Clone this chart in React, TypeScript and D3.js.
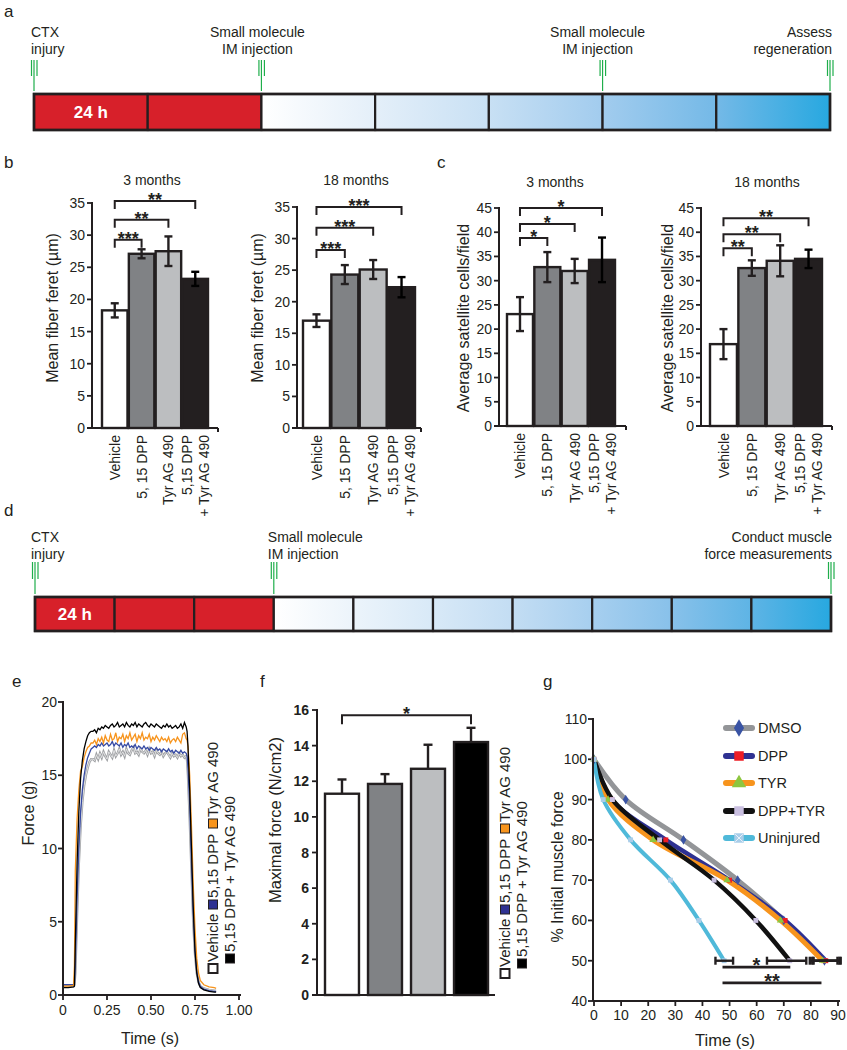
import React from 'react';
import * as d3 from 'd3';

const FONT = '"Liberation Sans", Arial, Helvetica, sans-serif';
const INK = '#231f20';
const RED = '#d7202a';
const GREEN = '#1fae4b';
const blueRamp = ['#ffffff', '#e4eff9', '#c8e0f4', '#a2ccee', '#74b9e7', '#27a8e0'];

// ---------- timelines (a, d) ----------
const aSegments = 7;
const aRed = 2;
const aEvents = [
  { at: 0, lines: ['CTX', 'injury'], anchor: 'start', dx: -3 },
  { at: 2, lines: ['Small molecule', 'IM injection'], anchor: 'middle', dx: -4 },
  { at: 5, lines: ['Small molecule', 'IM injection'], anchor: 'middle', dx: -5 },
  { at: 7, lines: ['Assess', 'regeneration'], anchor: 'end', dx: 2 },
];
const dSegments = 10;
const dRed = 3;
const dEvents = [
  { at: 0, lines: ['CTX', 'injury'], anchor: 'start', dx: -4 },
  { at: 3, lines: ['Small molecule', 'IM injection'], anchor: 'start', dx: -6 },
  { at: 10, lines: ['Conduct muscle', 'force measurements'], anchor: 'end', dx: 1 },
];

// ---------- panels b & c ----------
const groups = ['Vehicle', '5, 15 DPP', 'Tyr AG 490', '5,15 DPP + Tyr AG 490'];
const groupLines = [['Vehicle'], ['5, 15 DPP'], ['Tyr AG 490'], ['5,15 DPP', '+ Tyr AG 490']];
const barFills = ['#ffffff', '#808285', '#bcbec0', '#231f20'];

const feret3m = [18.3, 27.1, 27.5, 23.2];
const feret3mErr = [1.1, 0.7, 2.3, 1.1];
const feret18m = [17.0, 24.3, 25.1, 22.3];
const feret18mErr = [1.0, 1.5, 1.5, 1.6];
const sat3m = [23.1, 32.8, 32.0, 34.3];
const sat3mErr = [3.5, 3.1, 2.5, 4.6];
const sat18m = [16.9, 32.6, 34.1, 34.5];
const sat18mErr = [3.1, 1.6, 3.2, 1.9];

// [target group, bracket level, stars] – always compared with Vehicle
const feret3mSig: [number, number, string][] = [[1, 29.3, '***'], [2, 32.4, '**'], [3, 35.3, '**']];
const feret18mSig: [number, number, string][] = [[1, 28.2, '***'], [2, 31.7, '***'], [3, 35.0, '***']];
const sat3mSig: [number, number, string][] = [[1, 38.8, '*'], [2, 41.7, '*'], [3, 45.0, '*']];
const sat18mSig: [number, number, string][] = [[1, 36.7, '**'], [2, 39.6, '**'], [3, 42.9, '**']];

// ---------- panel e ----------
const eTime = [
  0, 0.03, 0.06, 0.065, 0.07, 0.08, 0.09, 0.10, 0.11, 0.12, 0.13, 0.14, 0.15, 0.16,
  0.17, 0.18, 0.19, 0.20, 0.21, 0.22, 0.23, 0.24, 0.25,
  0.26, 0.27, 0.28, 0.29, 0.30, 0.31, 0.32, 0.33, 0.34,
  0.35, 0.36, 0.37, 0.38, 0.39, 0.40, 0.41, 0.42, 0.43,
  0.44, 0.45, 0.46, 0.47, 0.48, 0.49, 0.50, 0.51, 0.52,
  0.53, 0.54, 0.55, 0.56, 0.57, 0.58, 0.59, 0.60, 0.61,
  0.62, 0.63, 0.64, 0.65, 0.66, 0.67, 0.68, 0.69, 0.70,
  0.705, 0.71, 0.72, 0.73, 0.74, 0.75, 0.76, 0.77, 0.78, 0.80, 0.83, 0.86, 0.87,
];
const eVehicle = [
  0.6, 0.6, 0.6, 0.7, 1.5, 5.5, 9.0, 11.5, 13.2, 14.3, 15.0, 15.5, 15.9, 16.1,
  16.1, 16.0, 16.4, 16.1, 16.5, 16.2, 16.6, 16.3, 16.1,
  16.6, 16.4, 16.2, 16.7, 16.3, 16.5, 16.8, 16.4, 16.6,
  16.3, 16.8, 16.5, 16.4, 16.7, 16.9, 16.5, 16.6, 16.4,
  16.8, 16.6, 16.5, 16.7, 16.4, 16.8, 16.5, 16.6, 16.3,
  16.7, 16.5, 16.4, 16.6, 16.3, 16.5, 16.6, 16.4, 16.2,
  16.5, 16.3, 16.4, 16.2, 16.5, 16.3, 16.4, 16.2, 16.3,
  16.0, 15.0, 12.0, 8.5, 5.0, 2.8, 1.5, 0.9, 0.6, 0.45, 0.35, 0.3, 0.3,
];
const eDpp = [
  0.7, 0.7, 0.7, 0.8, 2.0, 6.5, 10.0, 12.5, 14.0, 15.0, 15.7, 16.2, 16.5, 16.8,
  16.9, 17.0, 16.9, 17.1, 17.0, 17.2, 17.0, 17.1, 17.2,
  17.0, 17.1, 17.3, 17.0, 17.2, 17.1, 17.0, 17.2, 16.9,
  17.1, 17.0, 17.2, 16.9, 17.0, 16.9, 17.1, 16.8, 17.0,
  16.9, 16.8, 17.0, 16.8, 16.9, 16.7, 16.9, 16.8, 16.7,
  16.9, 16.7, 16.8, 16.6, 16.8, 16.7, 16.6, 16.8, 16.6,
  16.7, 16.5, 16.7, 16.6, 16.5, 16.7, 16.5, 16.6, 16.5,
  16.3, 15.5, 13.0, 9.0, 5.5, 3.0, 1.6, 0.9, 0.6, 0.4, 0.3, 0.25, 0.25,
];
const eTyr = [
  0.6, 0.6, 0.65, 2.0, 8.5, 12.0, 14.0, 15.3, 15.6, 16.2, 16.6, 16.9, 17.0, 17.2,
  17.2, 17.4, 17.1, 17.5, 17.3, 17.6, 17.2, 17.7, 17.4,
  17.3, 17.8, 17.4, 17.5, 17.9, 17.3, 17.6, 17.5, 17.8,
  17.3, 17.7, 17.5, 17.9, 17.4, 17.6, 17.8, 17.3, 17.7,
  17.5, 17.9, 17.4, 17.6, 17.5, 17.8, 17.3, 17.6, 17.4,
  17.7, 17.5, 17.3, 17.6, 17.4, 17.5, 17.3, 17.6, 17.2,
  17.4, 17.5, 17.3, 17.6, 17.4, 17.2, 17.8, 17.9, 17.5,
  17.4, 17.0, 15.0, 11.5, 7.5, 4.5, 2.5, 1.5, 1.0, 0.7, 0.55, 0.5, 0.45,
];
const eCombo = [
  0.5, 0.5, 0.55, 0.6, 3.5, 9.0, 12.5, 14.8, 16.0, 16.8, 17.3, 17.7, 17.9, 18.0,
  18.0, 18.1, 17.9, 18.2, 18.1, 18.3, 18.2, 18.4, 18.3,
  18.2, 18.4, 18.5, 18.3, 18.4, 18.6, 18.3, 18.4, 18.5,
  18.3, 18.6, 18.4, 18.3, 18.5, 18.4, 18.6, 18.3, 18.5,
  18.4, 18.3, 18.5, 18.6, 18.4, 18.3, 18.5, 18.4, 18.3,
  18.5, 18.4, 18.3, 18.2, 18.4, 18.3, 18.5, 18.3, 18.4,
  18.2, 18.3, 18.4, 18.2, 18.3, 18.5, 18.2, 18.6, 18.3,
  18.0, 17.0, 14.0, 10.0, 6.0, 3.0, 1.5, 0.8, 0.5, 0.35, 0.25, 0.2, 0.2,
];
const eTicks = [0, 0.25, 0.5, 0.75, 1];

// ---------- panel f ----------
const maxForce = [11.3, 11.85, 12.7, 14.2];
const maxForceErr = [0.8, 0.55, 1.35, 0.8];
const fFills = ['#ffffff', '#808285', '#bcbec0', '#000000'];

// legend used by e and f
const legendNames = ['Vehicle', '5,15 DPP', 'Tyr AG 490', '5,15 DPP + Tyr AG 490'];
const legendFills = ['#ffffff', '#2e3192', '#f7941d', '#000000'];

// ---------- panel g ----------
const gNames = ['DMSO', 'DPP', 'TYR', 'DPP+TYR', 'Uninjured'];
const gLevels = [100, 90, 80, 70, 60, 50];
const gDmso = [0, 11.7, 33, 53, 70, 85];
const gDpp = [0, 6.5, 26.5, 50, 70.5, 85.5];
const gTyr = [0, 5.2, 21.8, 49.1, 68.8, 84.3];
const gCombo = [0, 6.8, 24.2, 44.3, 59.7, 72.2];
const gUninj = [0, 3.4, 13.5, 28.2, 38.7, 48];
const gErrLo = [79.6, 81, 80.5, 63.8, 44.8];
const gErrHi = [91, 90.5, 89.8, 78.3, 51.3];
const gSig = [
  { from: 47.4, to: 72.4, level: 48.4, label: '*' },
  { from: 47.4, to: 83.9, level: 44.5, label: '**' },
];

function Timeline({ x0, x1, top, h, nSeg, nRed, events, idp, tick, textY }: any) {
  const x = d3.scaleLinear().domain([0, nSeg]).range([x0, x1]);
  const nBlue = nSeg - nRed;
  const ramp = d3.piecewise(d3.interpolateRgb, blueRamp);
  const segs = d3.range(nSeg);
  return (
    <g>
      <defs>
        {segs.filter((i) => i >= nRed).map((i) => {
          const k = i - nRed;
          return (
            <linearGradient key={i} id={`${idp}${i}`} x1="0" x2="1" y1="0" y2="0">
              <stop offset="0" stopColor={ramp(k / nBlue)} />
              <stop offset="1" stopColor={ramp((k + 1) / nBlue)} />
            </linearGradient>
          );
        })}
      </defs>
      {segs.map((i) => (
        <rect key={i} x={x(i)} y={top} width={x(i + 1) - x(i)} height={h}
          fill={i < nRed ? RED : `url(#${idp}${i})`} stroke={INK} strokeWidth={2.2} />
      ))}
      <rect x={x0} y={top} width={x1 - x0} height={h} fill="none" stroke={INK} strokeWidth={2.6} />
      <text x={(x(0) + x(1)) / 2} y={top + h / 2} dy="0.36em" textAnchor="middle" fill="#fff"
        fontWeight="bold" fontSize={17}>24 h</text>
      {events.map((ev: any) => {
        const ex = x(ev.at);
        return (
          <g key={ev.at}>
            <line x1={ex - 2.5} x2={ex - 2.5} y1={top - tick[0]} y2={top - tick[1]} stroke={GREEN} strokeWidth={1.2} />
            <line x1={ex} x2={ex} y1={top - tick[0]} y2={top - tick[2]} stroke={GREEN} strokeWidth={1.2} />
            <line x1={ex + 3} x2={ex + 3} y1={top - tick[0]} y2={top - tick[1]} stroke={GREEN} strokeWidth={1.2} />
            {ev.lines.map((l: string, j: number) => (
              <text key={j} x={ex + ev.dx} y={textY + j * 16.5} textAnchor={ev.anchor} fontSize={14}>{l}</text>
            ))}
          </g>
        );
      })}
    </g>
  );
}

function BarPanel({ axisX, y0, yTop, yMax, bandL, bandR, axisEnd, values, errs, sig, title, titleX, titleY, yLabel, yLabelX, yLabelY }: any) {
  const y = d3.scaleLinear().domain([0, yMax]).range([y0, yTop]);
  const x = d3.scaleBand<string>().domain(groups).range([bandL, bandR]).paddingInner(0.05);
  const ticks = y.ticks(yMax / 5);
  const cx = (i: number) => (x(groups[i]) as number) + x.bandwidth() / 2;
  return (
    <g>
      <text x={titleX} y={titleY} textAnchor="middle" fontSize={14}>{title}</text>
      <text transform={`translate(${yLabelX},${yLabelY}) rotate(-90)`} textAnchor="middle" dy="0.35em" fontSize={16}>{yLabel}</text>
      {ticks.map((t) => (
        <g key={t}>
          <line x1={axisX - 5} x2={axisX} y1={y(t)} y2={y(t)} stroke={INK} strokeWidth={1.8} />
          <text x={axisX - 7} y={y(t)} dy="0.36em" textAnchor="end" fontSize={14}>{t}</text>
        </g>
      ))}
      {values.map((v: number, i: number) => (
        <rect key={i} x={x(groups[i])} y={y(v)} width={x.bandwidth()} height={y0 - y(v)}
          fill={barFills[i]} stroke={INK} strokeWidth={2.4} />
      ))}
      {values.map((v: number, i: number) => {
        const c = cx(i);
        const e = errs[i];
        return (
          <g key={i} stroke={i === 3 ? '#000' : INK} strokeWidth={2.4}>
            <line x1={c} x2={c} y1={y(v - e)} y2={y(v + e)} />
            <line x1={c - 4} x2={c + 4} y1={y(v - e)} y2={y(v - e)} />
            <line x1={c - 4} x2={c + 4} y1={y(v + e)} y2={y(v + e)} />
          </g>
        );
      })}
      {sig.map(([to, lvl, lab]: [number, number, string], k: number) => {
        const a = cx(0);
        const b = cx(to);
        const ly = y(lvl);
        return (
          <g key={k}>
            <path d={`M${a},${ly + 8}V${ly}H${b}V${ly + 8}`} fill="none" stroke={INK} strokeWidth={2} />
            <text x={(a + b) / 2} y={ly + 5} textAnchor="middle" fontSize={18} fontWeight="bold">{lab}</text>
          </g>
        );
      })}
      <line x1={axisX} x2={axisX} y1={y0} y2={yTop - 1} stroke={INK} strokeWidth={2} />
      <line x1={axisX - 5} x2={axisEnd} y1={y0} y2={y0} stroke={INK} strokeWidth={2.2} />
      <line x1={axisEnd} x2={axisEnd} y1={y0} y2={y0 + 4} stroke={INK} strokeWidth={2} />
      {groupLines.map((ls, i) => ls.map((l, j) => {
        const off = ls.length === 1 ? 0 : (j === 0 ? -8.5 : 8.5);
        return (
          <text key={`${i}-${j}`} transform={`translate(${cx(i) + off},${y0 + 7}) rotate(-90)`}
            textAnchor="end" dy="0.36em" fontSize={14}>{l}</text>
        );
      }))}
    </g>
  );
}

// rotated two-line legend; [line, square x, text x] in the rotated frame
const legendSlots = [[0, 0, 11], [0, 64, 75], [0, 145, 156], [1, 10, 21]];

function Legend({ x, y }: any) {
  return (
    <g transform={`translate(${x},${y}) rotate(-90)`} fontSize={15}>
      {legendNames.map((n, i) => {
        const [ln, sx, tx] = legendSlots[i];
        const ly = ln * 17;
        return (
          <g key={n}>
            <rect x={sx} y={ly - 4.5} width={9} height={9} fill={legendFills[i]} stroke={INK} strokeWidth={i === 0 ? 2 : 1} />
            <text x={tx} y={ly} dy="0.36em">{n}</text>
          </g>
        );
      })}
    </g>
  );
}

function PanelE() {
  const x = d3.scaleLinear().domain([0, 1]).range([63, 239]);
  const y = d3.scaleLinear().domain([0, 20]).range([995, 702]);
  const line = d3.line<number>().x((_, i) => x(eTime[i])).y((d) => y(d));
  return (
    <g>
      <text transform="translate(28,813) rotate(-90)" textAnchor="middle" dy="0.35em" fontSize={16}>Force (g)</text>
      <text x={150} y={1044} textAnchor="middle" fontSize={16}>Time (s)</text>
      {y.ticks(4).map((t) => (
        <g key={t}>
          <line x1={58} x2={63} y1={y(t)} y2={y(t)} stroke={INK} strokeWidth={1.8} />
          <text x={57} y={y(t)} dy="0.36em" textAnchor="end" fontSize={14}>{t}</text>
        </g>
      ))}
      {eTicks.map((t) => (
        <g key={t}>
          <line x1={x(t)} x2={x(t)} y1={995} y2={1000} stroke={INK} strokeWidth={1.8} />
          <text x={x(t)} y={1015} textAnchor="middle" fontSize={14}>{t === 0 ? '0' : d3.format('.2f')(t)}</text>
        </g>
      ))}
      <path d={line(eVehicle) as string} fill="none" stroke="#9d9fa2" strokeWidth={2.4} />
      <path d={line(eVehicle) as string} fill="none" stroke="#e6e7e8" strokeWidth={0.9} />
      <path d={line(eDpp) as string} fill="none" stroke="#3549a3" strokeWidth={1.3} />
      <path d={line(eTyr) as string} fill="none" stroke="#f7941d" strokeWidth={1.3} />
      <path d={line(eCombo) as string} fill="none" stroke="#000" strokeWidth={1.3} />
      <line x1={63} x2={63} y1={995} y2={701} stroke={INK} strokeWidth={2} />
      <line x1={63} x2={241} y1={995} y2={995} stroke={INK} strokeWidth={2.2} />
      <Legend x={213} y={973} />
    </g>
  );
}

function PanelF() {
  const y = d3.scaleLinear().domain([0, 16]).range([995, 710]);
  const x = d3.scaleBand<string>().domain(groups).range([325, 488]).paddingInner(0.21);
  const cx = (i: number) => (x(groups[i]) as number) + x.bandwidth() / 2;
  const ly = y(15.7);
  return (
    <g>
      <text transform="translate(275,820) rotate(-90)" textAnchor="middle" dy="0.35em" fontSize={16.5}>Maximal force (N/cm2)</text>
      {y.ticks(8).map((t) => (
        <g key={t}>
          <line x1={312} x2={317} y1={y(t)} y2={y(t)} stroke={INK} strokeWidth={1.8} />
          <text x={309} y={y(t)} dy="0.36em" textAnchor="end" fontSize={14} fontWeight="bold">{t}</text>
        </g>
      ))}
      {maxForce.map((v, i) => (
        <g key={i}>
          <line x1={cx(i)} x2={cx(i)} y1={y(v)} y2={y(v + maxForceErr[i])} stroke={INK} strokeWidth={2.4} />
          <line x1={cx(i) - 4.5} x2={cx(i) + 4.5} y1={y(v + maxForceErr[i])} y2={y(v + maxForceErr[i])} stroke={INK} strokeWidth={2.4} />
          <rect x={x(groups[i])} y={y(v)} width={x.bandwidth()} height={995 - y(v)} fill={fFills[i]} stroke={INK} strokeWidth={2.4} />
        </g>
      ))}
      <path d={`M${cx(0)},${ly + 9}V${ly}H${cx(3)}V${ly + 9}`} fill="none" stroke={INK} strokeWidth={2} />
      <text x={(cx(0) + cx(3)) / 2} y={ly + 5} textAnchor="middle" fontSize={18} fontWeight="bold">*</text>
      <line x1={317} x2={317} y1={995} y2={709} stroke={INK} strokeWidth={2} />
      <line x1={312} x2={495} y1={995} y2={995} stroke={INK} strokeWidth={2.2} />
      <Legend x={505} y={978} />
    </g>
  );
}

const gTimes = [gDmso, gDpp, gTyr, gCombo, gUninj];
const gStyle = [
  { stroke: '#939598', w: 5, mark: d3.symbolDiamond, mfill: '#3953a4' },
  { stroke: '#2e3192', w: 4.5, mark: d3.symbolSquare, mfill: '#ed1c24' },
  { stroke: '#f7941d', w: 5, mark: d3.symbolTriangle, mfill: '#8dc63f' },
  { stroke: '#111111', w: 4.5, mark: d3.symbolSquare, mfill: '#c9bfe0' },
  { stroke: '#4fb9d9', w: 4, mark: d3.symbolSquare, mfill: '#a9cde9' },
];

function PanelG() {
  const x = d3.scaleLinear().domain([0, 90]).range([594, 838]);
  const y = d3.scaleLinear().domain([40, 110]).range([1001, 719]);
  const line = d3.line<number>().x((d) => x(d)).y((_, i) => y(gLevels[i])).curve(d3.curveCatmullRom.alpha(0.5));
  const legY = [728, 756, 783, 811, 838];
  return (
    <g>
      <text transform="translate(557,867) rotate(-90)" textAnchor="middle" dy="0.35em" fontSize={16}>% Initial muscle force</text>
      <text x={725} y={1046} textAnchor="middle" fontSize={16.5}>Time (s)</text>
      {y.ticks(7).map((t) => (
        <g key={t}>
          <line x1={588} x2={593} y1={y(t)} y2={y(t)} stroke={INK} strokeWidth={1.8} />
          <text x={587} y={y(t)} dy="0.36em" textAnchor="end" fontSize={14}>{t}</text>
        </g>
      ))}
      {x.ticks(9).map((t) => (
        <g key={t}>
          <line x1={x(t)} x2={x(t)} y1={1001} y2={1006} stroke={INK} strokeWidth={1.8} />
          <text x={x(t)} y={1020} textAnchor="middle" fontSize={14}>{t}</text>
        </g>
      ))}
      {gTimes.map((ts, s) => (
        <path key={s} d={line(ts) as string} fill="none" stroke={gStyle[s].stroke} strokeWidth={gStyle[s].w} strokeLinecap="round" />
      ))}
      {gTimes.map((ts, s) => ts.map((t, i) => (
        <path key={`${s}-${i}`} transform={`translate(${x(t)},${y(gLevels[i])})`}
          d={d3.symbol(gStyle[s].mark, s === 0 ? 28 : 24)() as string} fill={gStyle[s].mfill} />
      )))}
      {gErrLo.map((lo, s) => (
        <g key={s} stroke={INK} strokeWidth={2.4}>
          <line x1={x(lo)} x2={x(gErrHi[s])} y1={y(50)} y2={y(50)} />
          <line x1={x(lo)} x2={x(lo)} y1={y(50) - 4} y2={y(50) + 4} />
          <line x1={x(gErrHi[s])} x2={x(gErrHi[s])} y1={y(50) - 4} y2={y(50) + 4} />
        </g>
      ))}
      {gSig.map((g, k) => (
        <g key={k}>
          <line x1={x(g.from)} x2={x(g.to)} y1={y(g.level)} y2={y(g.level)} stroke={INK} strokeWidth={2.6} />
          <text x={(x(g.from) + x(g.to)) / 2} y={y(g.level) + 5} textAnchor="middle" fontSize={20} fontWeight="bold">{g.label}</text>
        </g>
      ))}
      <line x1={593} x2={593} y1={1001} y2={718} stroke={INK} strokeWidth={2} />
      <line x1={593} x2={840} y1={1001} y2={1001} stroke={INK} strokeWidth={2.2} />
      {gNames.map((n, s) => (
        <g key={n}>
          <line x1={726} x2={752} y1={legY[s]} y2={legY[s]} stroke={gStyle[s].stroke} strokeWidth={6} strokeLinecap="round" />
          <path transform={`translate(739,${legY[s]})`} d={d3.symbol(gStyle[s].mark, 90)() as string} fill={gStyle[s].mfill} />
          {s === 4 && (
            <path transform={`translate(739,${legY[s]})`} d={d3.symbol(d3.symbolX, 40)() as string} fill="none" stroke="#e8f2fa" strokeWidth={1} />
          )}
          <text x={758} y={legY[s]} dy="0.36em" fontSize={14.5}>{n}</text>
        </g>
      ))}
    </g>
  );
}

export default function App() {
  return (
    <svg width={847} height={1050} viewBox="0 0 847 1050" fontFamily={FONT} fill={INK}
      style={{ position: 'absolute', left: 0, top: 0, background: '#fff' }}>
      <rect width={847} height={1050} fill="#fff" />
      <g fontSize={17}>
        <text x={4} y={17}>a</text>
        <text x={4} y={168}>b</text>
        <text x={437} y={168}>c</text>
        <text x={4} y={516}>d</text>
        <text x={12} y={687}>e</text>
        <text x={260} y={687}>f</text>
        <text x={543} y={687}>g</text>
      </g>
      <Timeline x0={34} x1={830} top={94} h={36} nSeg={aSegments} nRed={aRed} events={aEvents} idp="ga" tick={[34, 18, 3]} textY={37} />
      <Timeline x0={35} x1={831} top={597} h={34} nSeg={dSegments} nRed={dRed} events={dEvents} idp="gd" tick={[35, 18, 3]} textY={542} />

      <BarPanel axisX={92} y0={428} yTop={203} yMax={35} bandL={102} bandR={208} axisEnd={218}
        values={feret3m} errs={feret3mErr} sig={feret3mSig} title="3 months" titleX={152} titleY={185}
        yLabel="Mean fiber feret (µm)" yLabelX={52} yLabelY={308} />
      <BarPanel axisX={297} y0={428} yTop={207} yMax={35} bandL={303} bandR={415} axisEnd={421}
        values={feret18m} errs={feret18mErr} sig={feret18mSig} title="18 months" titleX={356} titleY={185}
        yLabel="Mean fiber feret (µm)" yLabelX={257} yLabelY={308} />
      <BarPanel axisX={499} y0={426} yTop={208} yMax={45} bandL={507} bandR={615} axisEnd={626}
        values={sat3m} errs={sat3mErr} sig={sat3mSig} title="3 months" titleX={555} titleY={187}
        yLabel="Average satellite cells/field" yLabelX={463} yLabelY={318} />
      <BarPanel axisX={701} y0={426} yTop={208} yMax={45} bandL={710} bandR={822} axisEnd={832}
        values={sat18m} errs={sat18mErr} sig={sat18mSig} title="18 months" titleX={767} titleY={187}
        yLabel="Average satellite cells/field" yLabelX={667} yLabelY={318} />

      <PanelE />
      <PanelF />
      <PanelG />
    </svg>
  );
}
